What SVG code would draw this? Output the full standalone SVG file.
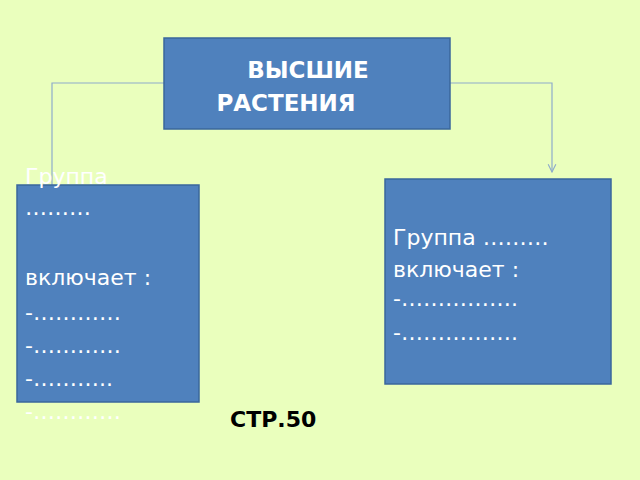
<svg xmlns="http://www.w3.org/2000/svg" width="640" height="480" viewBox="0 0 640 480">
<style>
.box{fill:#4f81bd;stroke:#3a679c;stroke-width:1.5}
.t{font-family:"DejaVu Sans",sans-serif;fill:#fff;font-size:22px}
.c{fill:none;stroke:#8eaccb;stroke-width:1.2}
</style>
<defs><marker id="a" viewBox="0 0 10 10" refX="9" refY="5" markerWidth="8" markerHeight="8" orient="auto"><path d="M1,1 L9,5 L1,9" fill="none" stroke="#8eaccb" stroke-width="1.2"/></marker></defs>
<rect width="640" height="480" fill="#eaffbd"/>
<g id="connectors">
<path class="c" d="M164,83 H52 V198" marker-end="url(#a)"/>
<path class="c" d="M450,83 H552 V172" marker-end="url(#a)"/>
</g>
<g id="top"><rect class="box" x="164" y="38" width="286" height="91"/>
<text class="t" font-weight="bold" font-size="23" x="308" y="78" text-anchor="middle" style="font-size:23px">ВЫСШИЕ</text>
<text class="t" font-weight="bold" x="286" y="111" text-anchor="middle" style="font-size:23px">РАСТЕНИЯ</text></g>
<g id="left"><rect class="box" x="17" y="185" width="182" height="217"/>
<text class="t" x="25" y="184">Группа</text>
<text class="t" x="25" y="215">………</text>
<text class="t" x="25" y="285">включает :</text>
<text class="t" x="25" y="320">-…………</text>
<text class="t" x="25" y="353">-…………</text>
<text class="t" x="25" y="386">-………..</text>
<text class="t" x="25" y="419">-…………</text></g>
<g id="right"><rect class="box" x="385" y="179" width="226" height="205"/>
<text class="t" x="393" y="245">Группа ………</text>
<text class="t" x="393" y="277"> включает :</text>
<text class="t" x="393" y="306">-…………….</text>
<text class="t" x="393" y="340">-…………….</text></g>
<text x="230" y="427" font-family="DejaVu Sans,sans-serif" font-weight="bold" font-size="22">СТР.50</text>
</svg>
